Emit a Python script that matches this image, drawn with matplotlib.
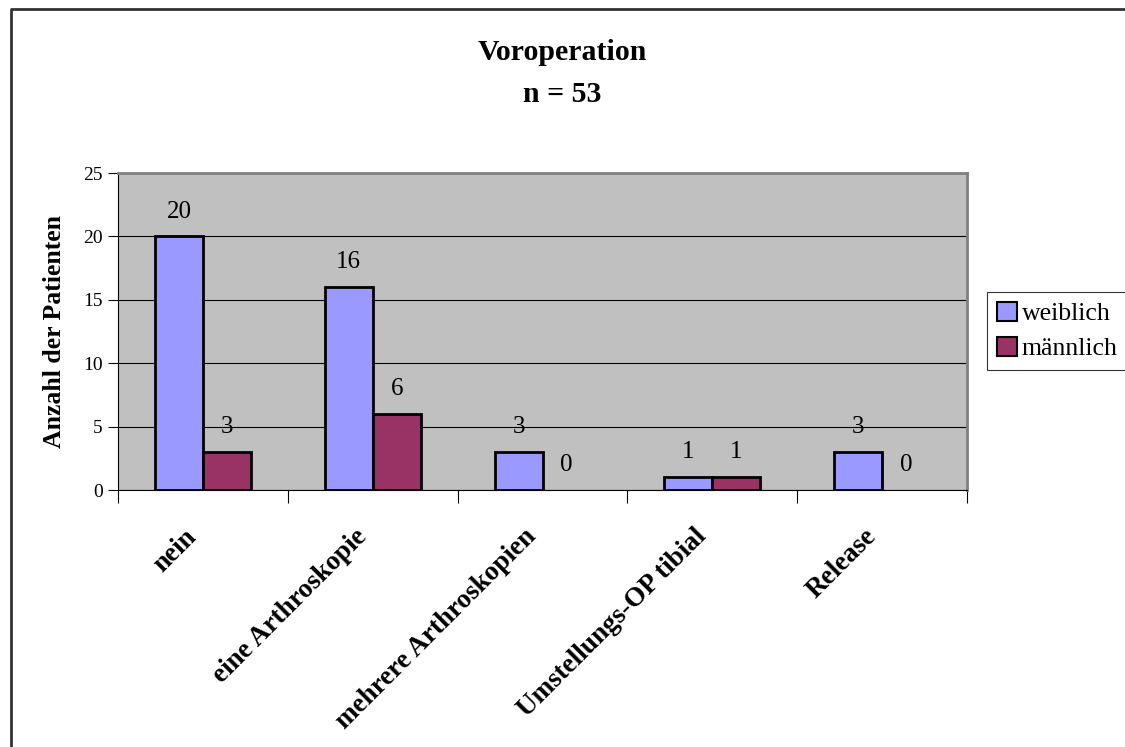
import numpy as np
import matplotlib.pyplot as plt
from matplotlib.lines import Line2D

plt.rcParams['font.family'] = ['Liberation Serif', 'DejaVu Serif']

categories = ["nein", "eine Arthroskopie", "mehrere Arthroskopien",
              "Umstellungs-OP tibial", "Release"]
weiblich = [20, 16, 3, 1, 3]
maennlich = [3, 6, 0, 1, 0]
series_names = ["weiblich", "männlich"]

W, H = 1125, 747
fig = plt.figure(figsize=(W / 100, H / 100), dpi=100)
ax = fig.add_axes([118 / W, 1 - 490 / H, 849 / W, 317 / H])
ax.set_facecolor("#C0C0C0")

x = np.arange(len(categories))
w = 0.282
b1 = ax.bar(x - w / 2, weiblich, w, color="#9999FF", edgecolor="black",
            lw=2, label=series_names[0], zorder=3)
b2 = ax.bar(x + w / 2, maennlich, w, color="#993366", edgecolor="black",
            lw=2, label=series_names[1], zorder=3)

for bars, vals in [(b1, weiblich), (b2, maennlich)]:
    for r, v in zip(bars, vals):
        if v == 0:
            r.set_linewidth(0)
        ax.annotate(str(v), (r.get_x() + r.get_width() / 2, v),
                    xytext=(0, 10), textcoords="offset points",
                    ha="center", va="bottom", fontsize=18)

ax.set_xlim(-0.5, len(categories) - 0.5)
ax.set_ylim(0, 25)
ax.set_yticks([0, 5, 10, 15, 20, 25])
ax.yaxis.grid(True, color="black", lw=0.8, zorder=1)
ax.tick_params(axis="y", labelsize=14, direction="out", length=7, pad=4)

# category ticks sit between groups, labels at centers
ax.set_xticks(np.arange(len(categories) + 1) - 0.5)
ax.set_xticklabels([])
ax.tick_params(axis="x", length=9, direction="out")
for i, c in enumerate(categories):
    ax.text(i - 0.11, -2.7, c, rotation=45, ha="right", va="top",
            rotation_mode="anchor", fontsize=19.5, fontweight="bold")

for s in ["top", "right"]:
    ax.spines[s].set_color("#808080")
    ax.spines[s].set_linewidth(2)
for s in ["left", "bottom"]:
    ax.spines[s].set_color("black")

ax.set_ylabel("Anzahl der Patienten", fontsize=18.5, fontweight="bold",
              labelpad=12)
fig.text(0.5, 1 - 52 / H, "Voroperation", ha="center", va="center",
         fontsize=21.5, fontweight="bold")
fig.text(0.5, 1 - 94 / H, "n = 53", ha="center", va="center",
         fontsize=21.5, fontweight="bold")

leg = ax.legend(loc="center left", bbox_to_anchor=(987 / W, 1 - 331 / H),
                bbox_transform=fig.transFigure,
                frameon=True, fancybox=False, fontsize=18.5,
                handlelength=0.75, handleheight=0.75, handletextpad=0.2,
                borderpad=0.4, labelspacing=0.45, borderaxespad=0)
leg.get_frame().set_edgecolor("black")
leg.get_frame().set_linewidth(0.8)
for h in leg.legend_handles:
    h.set_linewidth(1.5)

# outer chart border (only top and left visible)
fig.lines.append(Line2D([11 / W, 11 / W, 1.0], [0.0, 1 - 9 / H, 1 - 9 / H],
                        transform=fig.transFigure, color="#333333", lw=2))

fig.savefig("out.png", dpi=100)
